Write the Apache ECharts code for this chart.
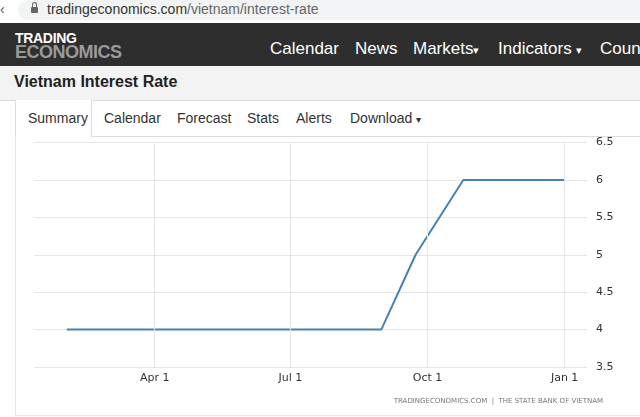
<!DOCTYPE html>
<html>
<head>
<meta charset="utf-8">
<script src="https://cdn.jsdelivr.net/npm/echarts@6/dist/echarts.min.js"></script>
<style>
body { margin: 0; width: 640px; height: 417px; overflow: hidden; background: #fff; font-family: Arial, "Liberation Sans", sans-serif; position: relative; }
.abs { position: absolute; white-space: nowrap; }
#addr { left: 0; top: 0; width: 640px; height: 22px; background: #fff; }
#pill { left: 18px; top: 0; width: 640px; height: 20px; background: #f1f3f4; border-radius: 10px; }
#head { left: 0; top: 23px; width: 640px; height: 43px; background: #2e2e2e; }
#titlebar { left: 0; top: 66px; width: 640px; height: 34px; background: #f3f3f3; border-bottom: 1px solid #dcdcdc; }
.nav { color: #fff; font-size: 17px; top: 39px; }
.tab { color: #333; font-size: 14px; top: 110px; }
#main { position: absolute; left: 15px; top: 137px; width: 625px; height: 278px; }
</style>
</head>
<body>
<div class="abs" id="addr"></div>
<div class="abs" id="pill"></div>
<div class="abs" style="left:0;top:1px;font-size:14px;color:#555;">&lsaquo;</div>
<div class="abs" style="left:31px;top:7px;width:7px;height:6px;background:#666;border-radius:1px;"></div>
<div class="abs" style="left:32px;top:2px;width:3px;height:4px;border:1px solid #666;border-bottom:none;border-radius:3px 3px 0 0;"></div>
<div class="abs" style="left:47px;top:1px;font-size:14px;color:#333;">tradingeconomics.com<span style="color:#666">/vietnam/interest-rate</span></div>

<div class="abs" id="head"></div>
<div class="abs" style="left:15px;top:32px;font-size:14px;font-weight:bold;color:#fff;line-height:13px;letter-spacing:-0.3px;">TRADING</div>
<div class="abs" style="left:15px;top:45px;font-size:18px;font-weight:bold;color:#9a9a9a;line-height:15px;letter-spacing:-0.5px;">ECONOMICS</div>
<div class="abs nav" style="left:270px;">Calendar</div>
<div class="abs nav" style="left:355px;">News</div>
<div class="abs nav" style="left:413px;">Markets<span style="font-size:11px">&#9662;</span></div>
<div class="abs nav" style="left:498px;">Indicators <span style="font-size:11px">&#9662;</span></div>
<div class="abs nav" style="left:600px;">Coun</div>

<div class="abs" id="titlebar"></div>
<div class="abs" style="left:14px;top:73px;font-size:16px;font-weight:bold;color:#222;">Vietnam Interest Rate</div>

<div class="abs" style="left:91px;top:136px;width:549px;height:0;border-top:1px solid #ddd;"></div>
<div class="abs" style="left:15px;top:100px;width:75px;height:37px;border:1px solid #ddd;border-bottom:none;border-top:none;background:#fff;"></div>
<div class="abs" style="left:15px;top:137px;width:0;height:278px;border-left:1px solid #e6e6e6;"></div>
<div class="abs" style="left:15px;top:415px;width:625px;height:0;border-top:1px solid #e6e6e6;"></div>
<div class="abs tab" style="left:28px;">Summary</div>
<div class="abs tab" style="left:104px;">Calendar</div>
<div class="abs tab" style="left:177px;">Forecast</div>
<div class="abs tab" style="left:247px;">Stats</div>
<div class="abs tab" style="left:296px;">Alerts</div>
<div class="abs tab" style="left:350px;">Download <span style="font-size:10px">&#9662;</span></div>

<div id="main"></div>
<script>
// policy rate, %
var dates = ['2022-02-01', '2022-08-31', '2022-09-23', '2022-10-25', '2023-01-01'];
var rates = [4, 4, 5, 6, 6];
var tickDates = ['2022-04-01', '2022-07-01', '2022-10-01', '2023-01-01'];
var tickLabels = ['Apr 1', 'Jul 1', 'Oct 1', 'Jan 1'];

function ts(d) {
    return Date.parse(d + 'T00:00:00Z');
}

var myChart = echarts.init(document.getElementById('main'));

var points = [];
for (var i = 0; i < dates.length; i++) {
    points.push([ts(dates[i]), rates[i]]);
}
var tickValues = [];
var vLines = [];
for (var j = 0; j < tickDates.length; j++) {
    tickValues.push(ts(tickDates[j]));
    vLines.push({xAxis: ts(tickDates[j])});
}

var option = {
    animation: false,
    grid: {left: 19, right: 53, top: 4, bottom: 48},
    xAxis: {
        type: 'value',
        min: ts('2022-01-10'),
        max: ts('2023-01-16'),
        axisLine: {show: false},
        axisTick: {show: false},
        splitLine: {show: false},
        axisLabel: {
            customValues: tickValues,
            color: '#333',
            fontSize: 11,
            margin: 6,
            fontFamily: 'DejaVu Sans',
            formatter: function (value) {
                var k = tickValues.indexOf(value);
                return k >= 0 ? tickLabels[k] : '';
            }
        }
    },
    yAxis: {
        type: 'value',
        position: 'right',
        min: 3.5,
        max: 6.5,
        interval: 0.5,
        axisLine: {show: false},
        axisTick: {show: false},
        axisLabel: {color: '#333', fontSize: 11, margin: 9, fontFamily: 'DejaVu Sans'},
        splitLine: {lineStyle: {color: '#e6e6e6'}}
    },
    graphic: [{
        type: 'text',
        right: 37,
        top: 261,
        style: {
            text: 'TRADINGECONOMICS.COM  |  THE STATE BANK OF VIETNAM',
            fill: '#777',
            font: '7px "DejaVu Sans"'
        }
    }],
    series: [{
        type: 'line',
        data: points,
        showSymbol: false,
        lineStyle: {color: '#4682b4', width: 2},
        markLine: {
            silent: true,
            symbol: 'none',
            label: {show: false},
            lineStyle: {color: '#e6e6e6', type: 'solid', width: 1},
            data: vLines
        }
    }]
};

myChart.setOption(option);
</script>
</body>
</html>
